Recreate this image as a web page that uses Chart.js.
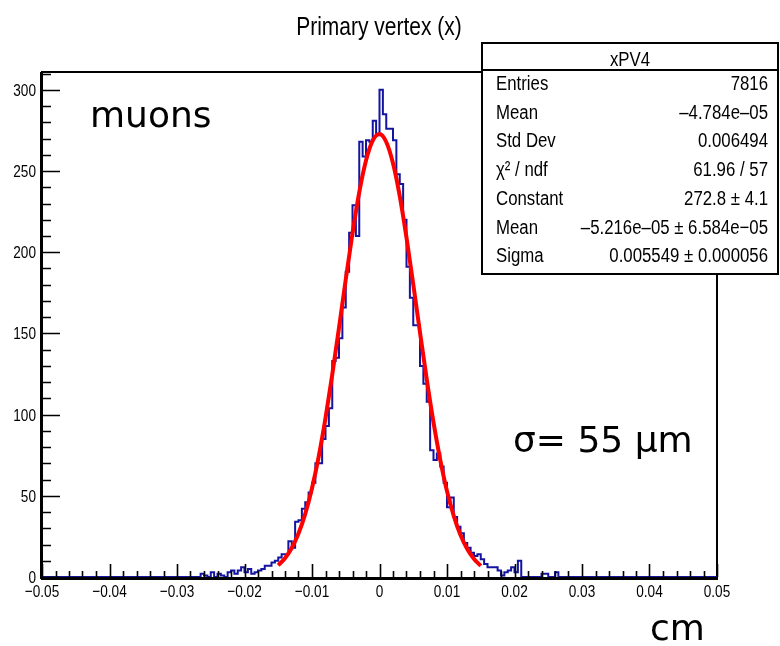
<!DOCTYPE html>
<html><head><meta charset="utf-8">
<script src="https://cdn.jsdelivr.net/npm/chart.js@4"></script>
<style>html,body{margin:0;padding:0;background:#fff;}#wrap{width:780px;height:646px;position:relative;}</style>
</head><body><div id="wrap"><canvas id="c" width="780" height="646"></canvas></div>
<script>
// ---------- data ----------
const histLow = -0.05;
const histHigh = 0.05;
const binCounts = [
  0,0,0,0,0,0,0,0,0,0,
  0,0,0,0,0,0,0,0,0,0,
  0,0,0,0,0,0,0,0,0,0,
  0,0,0,0,0,0,0,0,0,0,
  0,0,0,0,0,0,0,2,1,0,
  3,0,2,1,0,3,4,2,4,6,
  3,5,2,3,4,5,7,7,9,10,
  12,14,14,22,18,34,35,42,46,52,
  58,70,70,85,93,104,133,135,147,166,
  188,212,229,210,268,259,269,268,281,272,
  300,285,276,276,269,248,242,220,191,172,
  155,155,130,119,108,78,72,76,68,58,
  43,49,37,31,27,21,18,15,13,14,
  11,8,6,6,6,4,1,3,4,6,
  3,10,0,0,0,0,0,0,2,2,
  0,0,3,0,0,0,0,0,0,0,
  0,0,0,0,0,0,0,0,0,0,
  0,0,0,0,0,0,0,0,0,0,
  0,0,0,0,0,0,0,0,0,0,
  0,0,0,0,0,0,0,0,0,0
];
// red fit curve, sampled every 0.001 cm across the fit range
const fitX = [-0.015,-0.014,-0.013,-0.012,-0.011,-0.010,-0.009,-0.008,-0.007,-0.006,-0.005,-0.004,-0.003,-0.002,-0.001,0,
  0.001,0.002,0.003,0.004,0.005,0.006,0.007,0.008,0.009,0.010,0.011,0.012,0.013,0.014,0.015];
const fitY = [7.2,11.6,17.9,26.8,38.9,54.7,74.3,97.8,124.6,153.5,183.2,211.7,236.9,256.5,268.8,272.8,
  267.9,254.8,234.6,209.0,180.3,150.6,121.7,95.2,72.2,52.9,37.6,25.8,17.2,11.1,6.9];
const xTickValues = [-0.05,-0.04,-0.03,-0.02,-0.01,0,0.01,0.02,0.03,0.04,0.05];
const xTickLabels = ['\u22120.05','\u22120.04','\u22120.03','\u22120.02','\u22120.01','0','0.01','0.02','0.03','0.04','0.05'];
const yTickValues = [0,50,100,150,200,250,300];
const yTickLabels = ['0','50','100','150','200','250','300'];
const titleText = 'Primary vertex (x)';
const statsTitle = 'xPV4';
const statsNames = ['Entries','Mean','Std Dev','\u03C7\u00B2 / ndf','Constant','Mean','Sigma'];
const statsValues = ['7816','\u20134.784e\u201305','0.006494','61.96 / 57','272.8 \u00B1 4.1','\u20135.216e\u201305 \u00B1 6.584e\u221205','0.005549 \u00B1 0.000056'];
const noteLabels = ['muons','\u03C3= 55 \u03BCm','cm'];

// ---------- build library data ----------
const binWidth = (histHigh - histLow) / binCounts.length;
const histPoints = [];
binCounts.forEach((v, i) => {
  const lo = histLow + i * binWidth;
  histPoints.push({x: lo, y: v});
  histPoints.push({x: lo + binWidth, y: v});
});
const fitPoints = fitX.map((x, i) => ({x: x, y: fitY[i]}));

function condText(ctx, text, x, y, font, align, sx, base) {
  ctx.save();
  ctx.translate(x, y);
  ctx.scale(sx, 1);
  ctx.font = font;
  ctx.textAlign = align;
  ctx.textBaseline = base || 'alphabetic';
  ctx.fillStyle = '#000';
  ctx.fillText(text, 0, 0);
  ctx.restore();
}

const rootPlugin = {
  id: 'rootStyle',
  beforeDatasetsDraw(chart) {
    const ctx = chart.ctx, a = chart.chartArea;
    ctx.save();
    ctx.strokeStyle = '#000';
    ctx.lineWidth = 2;
    ctx.strokeRect(a.left, a.top, a.right - a.left, a.bottom - a.top + 1);
    ctx.lineWidth = 3;
    ctx.beginPath();
    ctx.moveTo(a.left - 1, a.bottom + 1.5); ctx.lineTo(a.right + 1, a.bottom + 1.5);
    ctx.moveTo(a.left - 0.5, a.top); ctx.lineTo(a.left - 0.5, a.bottom + 2);
    ctx.stroke();
    ctx.restore();
  },
  afterDatasetsDraw(chart) {
    const ctx = chart.ctx, a = chart.chartArea;
    const xs = chart.scales.x, ys = chart.scales.y;
    ctx.save();
    ctx.strokeStyle = '#000';
    ctx.lineWidth = 1.6;
    ctx.beginPath();
    for (let j = 0; j <= 50; j++) {
      const v = -0.05 + j * 0.002;
      const px = Math.round(xs.getPixelForValue(v)) + 0.5;
      const len = (j % 5 === 0) ? 13 : 6;
      ctx.moveTo(px, a.bottom); ctx.lineTo(px, a.bottom - len);
    }
    for (let j = 0; j <= 31; j++) {
      const v = j * 10;
      const py = Math.round(ys.getPixelForValue(v)) + 0.5;
      if (py < a.top) continue;
      const len = (j % 5 === 0) ? 18 : 9;
      ctx.moveTo(a.left, py); ctx.lineTo(a.left + len, py);
    }
    ctx.stroke();
    ctx.restore();

    const tickFont = '17px "Liberation Sans", Arial, sans-serif';
    xTickValues.forEach((v, i) => {
      condText(ctx, xTickLabels[i], xs.getPixelForValue(v), a.bottom + 20, tickFont, 'center', 0.8);
    });
    yTickValues.forEach((v, i) => {
      condText(ctx, yTickLabels[i], a.left - 6, ys.getPixelForValue(v) + 6, tickFont, 'right', 0.8);
    });

    condText(ctx, titleText, 379, 35, '25px "Liberation Sans", Arial, sans-serif', 'center', 0.84);

    const bx = 482, by = 43, bw = 296, bh = 231;
    ctx.save();
    ctx.fillStyle = '#fff';
    ctx.fillRect(bx, by, bw, bh);
    ctx.strokeStyle = '#000';
    ctx.lineWidth = 2;
    ctx.strokeRect(bx, by, bw, bh);
    ctx.beginPath(); ctx.moveTo(bx, 70); ctx.lineTo(bx + bw, 70); ctx.stroke();
    ctx.restore();
    const sFont = '20px "Liberation Sans", Arial, sans-serif';
    condText(ctx, statsTitle, 630, 66, sFont, 'center', 0.84);
    statsNames.forEach((n, i) => {
      const yb = 90 + i * 28.7;
      condText(ctx, n, 496, yb, sFont, 'left', 0.84);
      condText(ctx, statsValues[i], 768, yb, sFont, 'right', 0.84);
    });

    const nFont = '36px "DejaVu Sans", sans-serif';
    condText(ctx, noteLabels[0], 90, 127, nFont, 'left', 1);
    condText(ctx, noteLabels[1], 513, 452, nFont, 'left', 1);
    condText(ctx, noteLabels[2], 650, 640, nFont, 'left', 1);
  }
};

new Chart(document.getElementById('c'), {
  type: 'line',
  data: {
    datasets: [
      {label: 'fit', data: fitPoints, borderColor: '#ff0000', borderWidth: 4,
       pointRadius: 0, fill: false, cubicInterpolationMode: 'monotone'},
      {label: 'xPV4', data: histPoints, borderColor: '#1414a0', borderWidth: 2,
       pointRadius: 0, fill: false, tension: 0}
    ]
  },
  options: {
    responsive: false,
    animation: false,
    events: [],
    layout: {padding: {left: 42, right: 63, top: 72, bottom: 69}},
    scales: {
      x: {type: 'linear', min: histLow, max: histHigh, display: false},
      y: {type: 'linear', min: 0, max: 311, display: false}
    },
    plugins: {legend: {display: false}, tooltip: {enabled: false}, title: {display: false}}
  },
  plugins: [rootPlugin]
});
</script>
</body></html>
